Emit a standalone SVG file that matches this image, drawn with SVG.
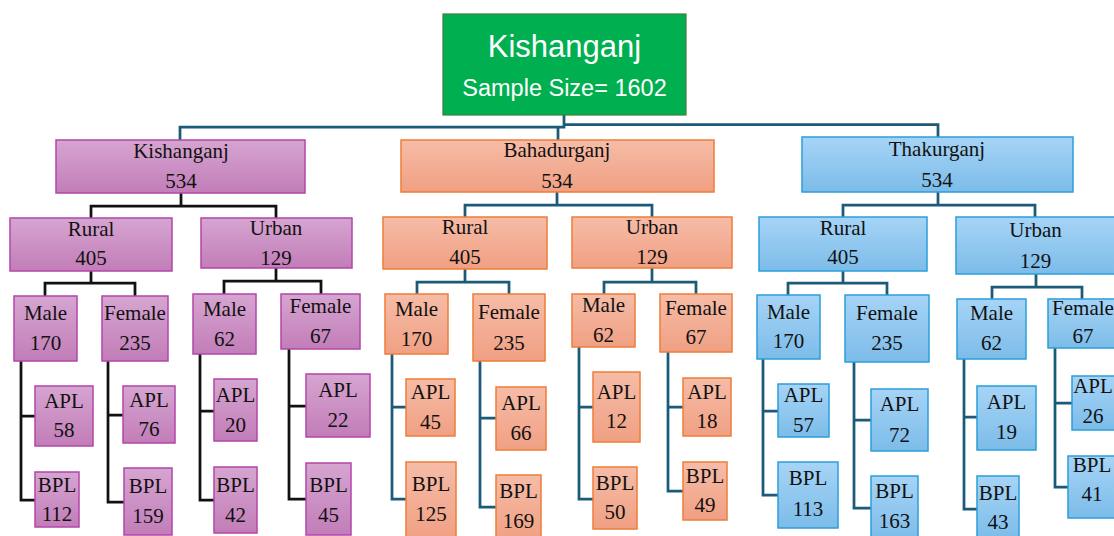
<svg xmlns="http://www.w3.org/2000/svg" width="1114" height="536" viewBox="0 0 1114 536">
<defs>
<linearGradient id="gp" x1="0" y1="0" x2="0" y2="1"><stop offset="0" stop-color="#d6a5d1"/><stop offset="1" stop-color="#c27db8"/></linearGradient>
<linearGradient id="go" x1="0" y1="0" x2="0" y2="1"><stop offset="0" stop-color="#f6bca7"/><stop offset="1" stop-color="#f0a083"/></linearGradient>
<linearGradient id="gb" x1="0" y1="0" x2="0" y2="1"><stop offset="0" stop-color="#a6d4f6"/><stop offset="1" stop-color="#7cbce9"/></linearGradient>
<style>
.p{fill:url(#gp);stroke:#b446ab;stroke-width:1.5}
.o{fill:url(#go);stroke:#ee7d38;stroke-width:1.5}
.b{fill:url(#gb);stroke:#2a9fd9;stroke-width:1.5}
.t{font-family:"Liberation Serif","Times New Roman",serif;font-size:21px;fill:#111;text-anchor:middle}
.w{font-family:"Liberation Sans",Arial,sans-serif;fill:#fff;text-anchor:middle}
.ck{fill:none;stroke:#111;stroke-width:2.75}
.cb{fill:none;stroke:#1b5a78;stroke-width:2.75}
</style>
</defs>
<rect width="1114" height="536" fill="#fff"/>
<g id="connectors">
<path class="cb" d="M564,115V127H180V140M558,127V140M564,124.5H938V137"/>
<path class="ck" d="M181,193V206H91V218M181,206H276V218"/>
<path class="cb" d="M557,192V205H465V217M557,205H652V217"/>
<path class="cb" d="M938,192V205H843V217M938,205H1035V217"/>
<path class="ck" d="M91,271V283H45V296M91,283H135V296"/>
<path class="ck" d="M276,268V281H224V294M276,281H321V294"/>
<path class="cb" d="M465,269V282H417V294M465,282H509V294"/>
<path class="cb" d="M652,268V282H604V294M652,282H696V294"/>
<path class="cb" d="M843,271V283H788V295M843,283H887V295"/>
<path class="cb" d="M1036,274V287H992V299M1036,287H1082V299"/>
<path class="ck" d="M21,361V500H35M21,416H35"/>
<path class="ck" d="M108,361V502H124M108,415H123"/>
<path class="ck" d="M200,354V500H214M200,411H214"/>
<path class="ck" d="M289,349V499H306M289,406H306"/>
<path class="cb" d="M392,354V499H406M392,407H406"/>
<path class="cb" d="M480,361V507H496M480,418H496"/>
<path class="cb" d="M579,347V499H593M579,407H593"/>
<path class="cb" d="M668,352V491H683M668,407H683"/>
<path class="cb" d="M763,359V495H778M763,411H778"/>
<path class="cb" d="M854,362V508H871M854,420H871"/>
<path class="cb" d="M964,359V509H977M964,417H977"/>
<path class="cb" d="M1055,348V487H1068M1055,403H1072"/>
</g>
<g id="root"><rect x="443" y="14" width="243" height="101" fill="#00b050" stroke="#3d7d3f" stroke-width="1.2"/><text class="w" x="564.5" y="57" font-size="31">Kishanganj</text><text class="w" x="564.5" y="96" font-size="23.5">Sample Size= 1602</text></g>
<g id="k"><rect class="p" x="56" y="140" width="249" height="53"/><text class="t" x="181" y="158">Kishanganj</text><text class="t" x="181" y="188">534</text></g>
<g id="b"><rect class="o" x="401" y="140" width="313" height="52"/><text class="t" x="557" y="157">Bahadurganj</text><text class="t" x="557" y="188">534</text></g>
<g id="t"><rect class="b" x="802" y="137" width="271" height="55"/><text class="t" x="937" y="156">Thakurganj</text><text class="t" x="937" y="187">534</text></g>
<g id="k-r"><rect class="p" x="10" y="218" width="162" height="53"/><text class="t" x="91" y="236">Rural</text><text class="t" x="91" y="265">405</text></g>
<g id="k-u"><rect class="p" x="201" y="218" width="151" height="50"/><text class="t" x="276" y="235">Urban</text><text class="t" x="276" y="265">129</text></g>
<g id="b-r"><rect class="o" x="383" y="217" width="164" height="52"/><text class="t" x="465" y="234">Rural</text><text class="t" x="465" y="264">405</text></g>
<g id="b-u"><rect class="o" x="572" y="217" width="160" height="51"/><text class="t" x="652" y="234">Urban</text><text class="t" x="652" y="264">129</text></g>
<g id="t-r"><rect class="b" x="759" y="217" width="168" height="54"/><text class="t" x="843" y="235">Rural</text><text class="t" x="843" y="264">405</text></g>
<g id="t-u"><rect class="b" x="956" y="217" width="165" height="57"/><text class="t" x="1035.5" y="237">Urban</text><text class="t" x="1035.5" y="268">129</text></g>
<g id="k-r-m"><rect class="p" x="14" y="296" width="63" height="65"/><text class="t" x="45.5" y="320">Male</text><text class="t" x="45.5" y="350">170</text></g>
<g id="k-r-f"><rect class="p" x="102" y="296" width="66" height="65"/><text class="t" x="135" y="320">Female</text><text class="t" x="135" y="350">235</text></g>
<g id="k-u-m"><rect class="p" x="193" y="294" width="63" height="60"/><text class="t" x="224.5" y="316">Male</text><text class="t" x="224.5" y="346">62</text></g>
<g id="k-u-f"><rect class="p" x="281" y="294" width="79" height="55"/><text class="t" x="320.5" y="313">Female</text><text class="t" x="320.5" y="343">67</text></g>
<g id="b-r-m"><rect class="o" x="385" y="294" width="63" height="60"/><text class="t" x="416.5" y="316">Male</text><text class="t" x="416.5" y="346">170</text></g>
<g id="b-r-f"><rect class="o" x="473" y="294" width="72" height="67"/><text class="t" x="509" y="319">Female</text><text class="t" x="509" y="350">235</text></g>
<g id="b-u-m"><rect class="o" x="572" y="294" width="63" height="53"/><text class="t" x="603.5" y="312">Male</text><text class="t" x="603.5" y="342">62</text></g>
<g id="b-u-f"><rect class="o" x="660" y="294" width="72" height="58"/><text class="t" x="696" y="315">Female</text><text class="t" x="696" y="344">67</text></g>
<g id="t-r-m"><rect class="b" x="757" y="295" width="63" height="64"/><text class="t" x="788.5" y="319">Male</text><text class="t" x="788.5" y="348">170</text></g>
<g id="t-r-f"><rect class="b" x="845" y="295" width="84" height="67"/><text class="t" x="887" y="320">Female</text><text class="t" x="887" y="350">235</text></g>
<g id="t-u-m"><rect class="b" x="957" y="299" width="69" height="60"/><text class="t" x="991.5" y="320">Male</text><text class="t" x="991.5" y="350">62</text></g>
<g id="t-u-f"><rect class="b" x="1048" y="299" width="72" height="49"/><text class="t" x="1083" y="315">Female</text><text class="t" x="1083" y="343">67</text></g>
<g id="k-r-m-apl"><rect class="p" x="35" y="386" width="58" height="60"/><text class="t" x="64" y="408">APL</text><text class="t" x="64" y="437">58</text></g>
<g id="k-r-m-bpl"><rect class="p" x="35" y="472" width="44" height="55"/><text class="t" x="57" y="492">BPL</text><text class="t" x="57" y="521">112</text></g>
<g id="k-r-f-apl"><rect class="p" x="123" y="386" width="52" height="57"/><text class="t" x="149" y="407">APL</text><text class="t" x="149" y="436">76</text></g>
<g id="k-r-f-bpl"><rect class="p" x="124" y="468" width="48" height="67"/><text class="t" x="148" y="493">BPL</text><text class="t" x="148" y="523">159</text></g>
<g id="k-u-m-apl"><rect class="p" x="214" y="379" width="43" height="62"/><text class="t" x="235.5" y="402">APL</text><text class="t" x="235.5" y="432">20</text></g>
<g id="k-u-m-bpl"><rect class="p" x="214" y="467" width="43" height="66"/><text class="t" x="235.5" y="492">BPL</text><text class="t" x="235.5" y="522">42</text></g>
<g id="k-u-f-apl"><rect class="p" x="306" y="374" width="64" height="63"/><text class="t" x="338" y="397">APL</text><text class="t" x="338" y="427">22</text></g>
<g id="k-u-f-bpl"><rect class="p" x="306" y="463" width="45" height="72"/><text class="t" x="328.5" y="492">BPL</text><text class="t" x="328.5" y="522">45</text></g>
<g id="b-r-m-apl"><rect class="o" x="406" y="379" width="49" height="57"/><text class="t" x="430.5" y="399">APL</text><text class="t" x="430.5" y="429">45</text></g>
<g id="b-r-m-bpl"><rect class="o" x="406" y="462" width="50" height="78"/><text class="t" x="431" y="491">BPL</text><text class="t" x="431" y="521">125</text></g>
<g id="b-r-f-apl"><rect class="o" x="496" y="387" width="50" height="63"/><text class="t" x="521" y="410">APL</text><text class="t" x="521" y="440">66</text></g>
<g id="b-r-f-bpl"><rect class="o" x="496" y="475" width="45" height="65"/><text class="t" x="518.5" y="498">BPL</text><text class="t" x="518.5" y="528">169</text></g>
<g id="b-u-m-apl"><rect class="o" x="593" y="372" width="47" height="70"/><text class="t" x="616.5" y="399">APL</text><text class="t" x="616.5" y="428">12</text></g>
<g id="b-u-m-bpl"><rect class="o" x="593" y="467" width="44" height="62"/><text class="t" x="615" y="490">BPL</text><text class="t" x="615" y="519">50</text></g>
<g id="b-u-f-apl"><rect class="o" x="683" y="378" width="48" height="58"/><text class="t" x="707" y="399">APL</text><text class="t" x="707" y="428">18</text></g>
<g id="b-u-f-bpl"><rect class="o" x="683" y="462" width="44" height="58"/><text class="t" x="705" y="483">BPL</text><text class="t" x="705" y="512">49</text></g>
<g id="t-r-m-apl"><rect class="b" x="778" y="384" width="51" height="53"/><text class="t" x="803.5" y="402">APL</text><text class="t" x="803.5" y="432">57</text></g>
<g id="t-r-m-bpl"><rect class="b" x="778" y="462" width="60" height="66"/><text class="t" x="808" y="485">BPL</text><text class="t" x="808" y="516">113</text></g>
<g id="t-r-f-apl"><rect class="b" x="871" y="389" width="57" height="62"/><text class="t" x="899.5" y="411">APL</text><text class="t" x="899.5" y="442">72</text></g>
<g id="t-r-f-bpl"><rect class="b" x="871" y="476" width="47" height="64"/><text class="t" x="894.5" y="498">BPL</text><text class="t" x="894.5" y="528">163</text></g>
<g id="t-u-m-apl"><rect class="b" x="977" y="386" width="59" height="64"/><text class="t" x="1006.5" y="409">APL</text><text class="t" x="1006.5" y="439">19</text></g>
<g id="t-u-m-bpl"><rect class="b" x="977" y="476" width="42" height="64"/><text class="t" x="998" y="500">BPL</text><text class="t" x="998" y="529">43</text></g>
<g id="t-u-f-apl"><rect class="b" x="1072" y="376" width="44" height="54"/><text class="t" x="1093" y="393">APL</text><text class="t" x="1093" y="423">26</text></g>
<g id="t-u-f-bpl"><rect class="b" x="1068" y="456" width="48" height="62"/><text class="t" x="1092" y="472">BPL</text><text class="t" x="1092" y="501">41</text></g>
</svg>
